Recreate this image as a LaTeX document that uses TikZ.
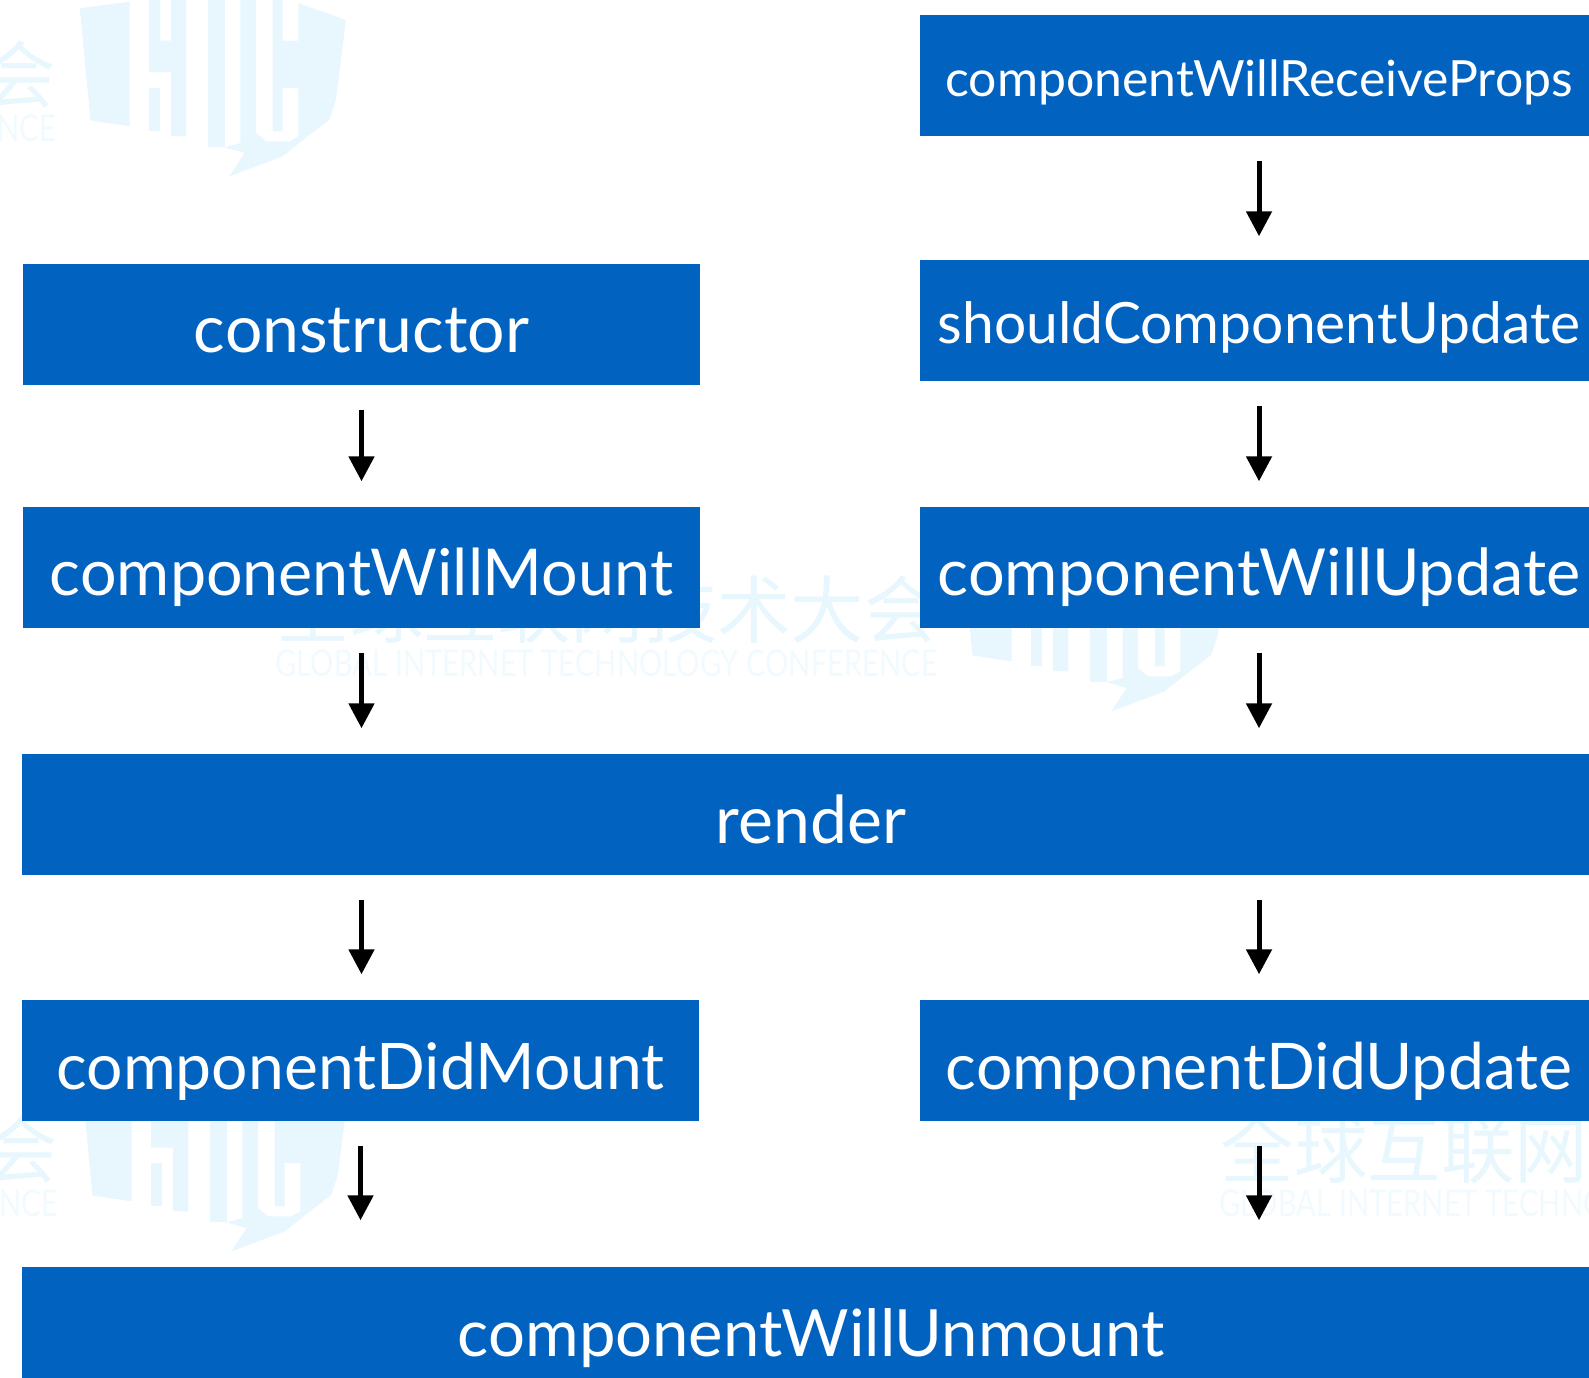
\documentclass[tikz,border=0pt]{standalone}
\usepackage{fontspec}
\setmainfont{Lato}
\newfontfamily\cjk{Noto Sans CJK SC}
\usetikzlibrary{arrows.meta}
\definecolor{hicblue}{HTML}{0262C0}
\definecolor{hicmist}{HTML}{E8F7FD}
\definecolor{hicmistlight}{HTML}{F1FAFE}
\tikzset{
	blockbox/.style={fill=hicblue, text=white, inner sep=0, minimum height=1.21cm, text height=0.65cm, text depth=0.08cm, font=\fontsize{#1}{24}\selectfont},
	flowarrow/.style={line width=0.05cm, -{Triangle[width=0.25cm, length=0.25cm]}, shorten <=0.245cm, shorten >=0.25cm},
	markshape/.style={fill=hicmist}
}
\def\hicmark(#1,#2)(#3){
	\begin{scope}[shift={(#1,#2)}, x=0.003333cm, y=-0.003333cm]
		\fill[markshape] (240,25) -- (390,5) -- (390,380) -- (272,362) -- cycle;
		\fill[markshape] (448,-30) -- (482,-30) -- (482,122) -- (514,122) -- (514,-30) -- (560,-30) -- (560,410) -- (514,410) -- (514,218) -- (448,218) -- cycle;
		\fill[markshape] (448,265) rectangle (482,395);
		\fill[markshape] (625,-30) rectangle (675,443);
		\fill[markshape] (723,-30) -- (770,-30) -- (770,400) -- (800,425) -- (870,425) -- (897,410) -- (897,265) -- (850,265) -- (850,395) -- (820,395) -- (820,-30) -- (850,-30) -- (850,122) -- (897,122) -- (897,10) -- (1040,60) -- (1010,300) -- (990,360) -- (900,430) -- (850,470) -- (690,530) -- (735,460) -- (675,443) -- (723,430) -- cycle;
		\node[anchor=east, inner sep=0, text=hicmist, font=\cjk\fontsize{20.9}{24}\selectfont] (#3title) at (170,225) {全球互联网技术大会};
		\node[anchor=east, inner sep=0, text=hicmistlight, font=\fontsize{10.5}{12}\selectfont] (#3sub) at (170,385) {\scalebox{0.79}[1]{GLOBAL INTERNET TECHNOLOGY CONFERENCE}};
	\end{scope}
}

\begin{document}
\begin{tikzpicture}
	%%%%% START %%%%%
	\useasboundingbox (0, 0) rectangle (15.89, 13.77);
	
	\hicmark(0, 13.77)(top)
	\hicmark(8.82, 8.42)(mid)
	\hicmark(0.02, 3.02)(low)
	\hicmark(18.26, 3.02)(side)
	
	\node[blockbox=18.8, minimum width=6.77cm] (constructor) at (3.615, 10.525) {constructor};
	\node[blockbox=18.37, minimum width=6.77cm] (willMount) at (3.615, 8.095) {componentWillMount};
	\node[blockbox=18.8, minimum width=15.78cm] (render) at (8.11, 5.625) {render};
	\node[blockbox=18.27, minimum width=6.77cm] (didMount) at (3.605, 3.165) {componentDidMount};
	\node[blockbox=18.55, minimum width=15.78cm] (willUnmount) at (8.11, 0.495) {componentWillUnmount};
	
	\node[blockbox=14.2, minimum width=6.78cm, text height=0.51cm, text depth=0.08cm] (willReceive) at (12.59, 13.015) {componentWillReceiveProps};
	\node[blockbox=16.2, minimum width=6.78cm, text height=0.55cm, text depth=0.08cm] (shouldUpdate) at (12.59, 10.565) {shouldComponentUpdate};
	\node[blockbox=18.45, minimum width=6.78cm] (willUpdate) at (12.59, 8.095) {componentWillUpdate};
	\node[blockbox=18.3, minimum width=6.78cm] (didUpdate) at (12.59, 3.165) {componentDidUpdate};
	
	\draw[flowarrow] (constructor) -- (willMount);
	\draw[flowarrow] (willMount.south) -- (willMount.south |- render.north);
	\draw[flowarrow] (willMount.south |- render.south) -- (willMount.south |- didMount.north);
	\draw[flowarrow, shorten >=0.46cm] (didMount.south) -- (didMount.south |- willUnmount.north);
	
	\draw[flowarrow, shorten >=0.23cm] (willReceive) -- (shouldUpdate);
	\draw[flowarrow] (shouldUpdate) -- (willUpdate);
	\draw[flowarrow] (willUpdate.south) -- (willUpdate.south |- render.north);
	\draw[flowarrow] (willUpdate.south |- render.south) -- (didUpdate.north);
	\draw[flowarrow, shorten >=0.46cm] (didUpdate.south) -- (didUpdate.south |- willUnmount.north);
	
	%%%%% END %%%%%
\end{tikzpicture}
\end{document}
